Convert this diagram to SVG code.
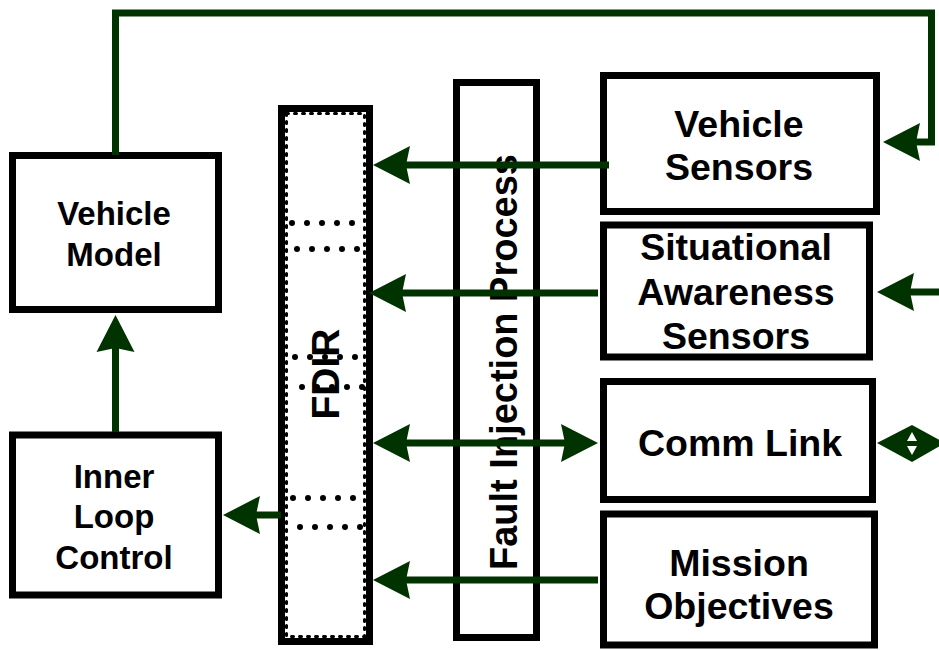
<svg xmlns="http://www.w3.org/2000/svg" width="939" height="650" viewBox="0 0 939 650">
<style>
.box{fill:#fff;stroke:#000;stroke-width:7}
.lbl{font-family:"Liberation Sans",Arial,sans-serif;font-weight:bold;fill:#000;text-anchor:middle}
.r{font-size:37.5px}
.l{font-size:33px}
.v{font-size:38px}
.ln{fill:none;stroke:#003300;stroke-width:7}
.ah{fill:#003300}
.dots{stroke:#000;stroke-width:6;stroke-linecap:round;stroke-dasharray:0 15}
</style>
<defs>
<polygon id="ah" points="0,0 37,-19 33,0 37,19"/>
</defs>
<rect width="939" height="650" fill="#fff"/>

<g id="vehicle-model">
<rect class="box" x="12.5" y="155.5" width="206" height="154"/>
<text class="lbl l" x="114" y="225">Vehicle</text>
<text class="lbl l" x="114" y="266">Model</text>
</g>

<g id="inner-loop-control">
<rect class="box" x="12.5" y="435" width="206" height="160"/>
<text class="lbl l" x="114" y="488">Inner</text>
<text class="lbl l" x="114" y="528">Loop</text>
<text class="lbl l" x="114" y="569">Control</text>
</g>

<g id="fdir">
<rect class="box" x="281.5" y="108.5" width="88" height="533"/>
<rect x="286.5" y="113.5" width="78" height="523" fill="none" stroke="#000" stroke-width="3" stroke-linecap="round" stroke-dasharray="2 6"/>
<text class="lbl v" style="font-size:39px" transform="translate(339,374) rotate(-90)">FDIR</text>
<line class="dots" x1="292" y1="223" x2="360" y2="223"/>
<line class="dots" x1="297" y1="249" x2="365" y2="249"/>
<line class="dots" x1="295" y1="357" x2="363" y2="357"/>
<line class="dots" x1="302" y1="387" x2="370" y2="387"/>
<line class="dots" x1="293" y1="498" x2="361" y2="498"/>
<line class="dots" x1="300" y1="527" x2="368" y2="527"/>
</g>

<g id="fault-injection-process">
<rect class="box" x="456.5" y="82.5" width="80" height="555"/>
<text class="lbl v" transform="translate(517,362) rotate(-90)">Fault Injection Process</text>
</g>

<g id="vehicle-sensors">
<rect class="box" x="603.5" y="75.5" width="273" height="136"/>
<text class="lbl r" x="739" y="137">Vehicle</text>
<text class="lbl r" x="739" y="180">Sensors</text>
</g>

<g id="situational-awareness-sensors">
<rect class="box" x="603.5" y="225" width="266" height="132"/>
<text class="lbl r" x="736" y="260">Situational</text>
<text class="lbl r" x="736" y="305">Awareness</text>
<text class="lbl r" x="736" y="349">Sensors</text>
</g>

<g id="comm-link">
<rect class="box" x="603.5" y="381.5" width="269" height="118"/>
<text class="lbl r" x="740" y="456">Comm Link</text>
</g>

<g id="mission-objectives">
<rect class="box" x="603.5" y="514" width="271" height="131"/>
<text class="lbl r" x="739" y="576">Mission</text>
<text class="lbl r" x="739" y="619">Objectives</text>
</g>

<g id="connectors">
<path class="ln" d="M115.5,155 V13 H931.5 V142 H912"/>
<use href="#ah" class="ah" transform="translate(883,142)"/>

<line class="ln" x1="609" y1="165" x2="405" y2="165"/>
<use href="#ah" class="ah" transform="translate(373,165)"/>

<line class="ln" x1="598" y1="293" x2="400" y2="293"/>
<use href="#ah" class="ah" transform="translate(369,293)"/>

<line class="ln" x1="939" y1="292" x2="908" y2="292"/>
<use href="#ah" class="ah" transform="translate(877,292)"/>

<line class="ln" x1="405" y1="443" x2="566" y2="443"/>
<use href="#ah" class="ah" transform="translate(373,443)"/>
<use href="#ah" class="ah" transform="translate(598,443) rotate(180)"/>

<polygon class="ah" points="877,443 912,425 945,443 912,462"/>
<polygon fill="#fff" points="912,432 907,441 917,441"/>
<polygon fill="#fff" points="907,446 917,446 912,455"/>

<line class="ln" x1="598" y1="580" x2="405" y2="580"/>
<use href="#ah" class="ah" transform="translate(373,580)"/>

<line class="ln" x1="115.5" y1="432" x2="115.5" y2="345"/>
<use href="#ah" class="ah" transform="translate(115.5,315) rotate(90)"/>

<line class="ln" x1="281" y1="515" x2="252" y2="515"/>
<use href="#ah" class="ah" transform="translate(223,515)"/>
</g>
</svg>
